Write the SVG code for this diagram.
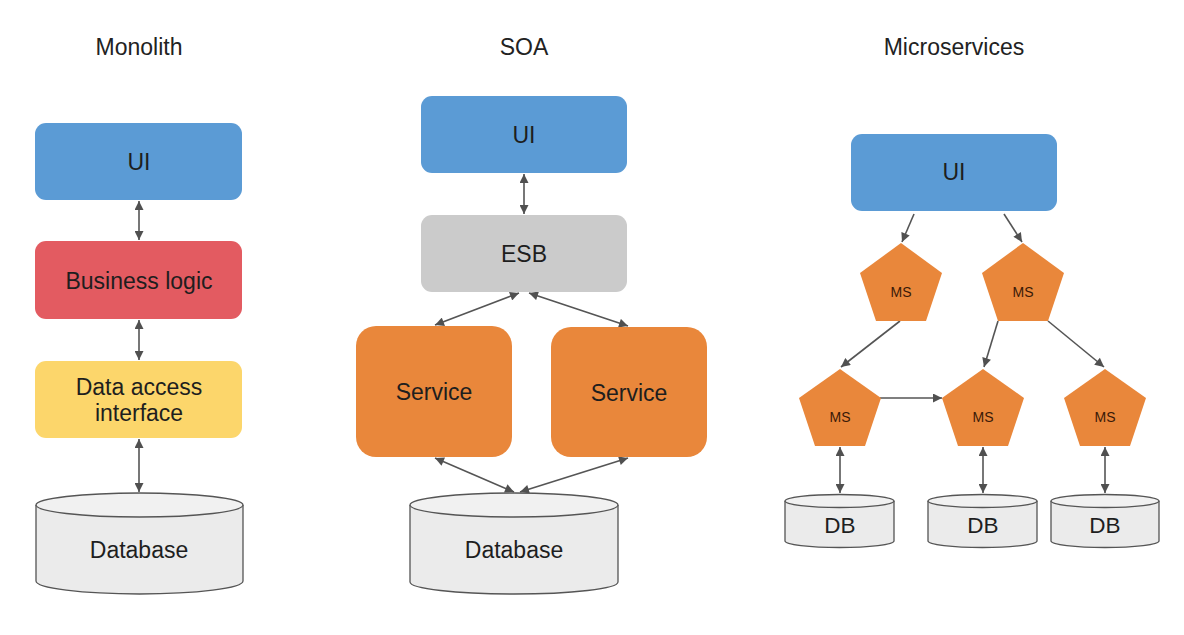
<svg xmlns="http://www.w3.org/2000/svg" width="1184" height="635" viewBox="0 0 1184 635">
<defs>
<marker id="ah" viewBox="0 0 10 10" refX="10" refY="5" markerWidth="10" markerHeight="9" markerUnits="userSpaceOnUse" orient="auto-start-reverse">
<path d="M0,0 L10,5 L0,10 z" fill="#505050"/>
</marker>
<style>
text{font-family:"Liberation Sans",Arial,sans-serif;text-anchor:middle;font-size:23px;fill:#1e1e1e}
.title{font-size:23px;fill:#222}
.ms{font-size:14px;fill:#3a1a08}
.dbt{font-size:22.5px}
.blue{fill:#5b9bd5}
.red{fill:#e35b61}
.yellow{fill:#fcd66b}
.gray{fill:#cbcbcb}
.orange{fill:#e9873b}
.db{fill:#ebebeb;stroke:#555;stroke-width:1.3}
.dbtop{fill:#f1f1f1;stroke:#555;stroke-width:1.3}
.c{stroke:#555;stroke-width:1.6;fill:none}
.bi{marker-start:url(#ah);marker-end:url(#ah)}
.one{marker-end:url(#ah)}
</style>
</defs>
<rect width="1184" height="635" fill="#ffffff"/>

<text class="title" x="139" y="55">Monolith</text>
<text class="title" x="524" y="55">SOA</text>
<text class="title" x="954" y="55">Microservices</text>

<g id="connectors">
<line class="c bi" x1="139" y1="201" x2="139" y2="240"/>
<line class="c bi" x1="139" y1="320" x2="139" y2="360"/>
<line class="c bi" x1="139" y1="439" x2="139" y2="492"/>
<line class="c bi" x1="524" y1="174" x2="524" y2="214"/>
<line class="c bi" x1="519" y1="293" x2="435" y2="325"/>
<line class="c bi" x1="529" y1="293" x2="628" y2="326"/>
<line class="c bi" x1="435" y1="458" x2="514" y2="492"/>
<line class="c bi" x1="628" y1="458" x2="520" y2="492"/>
<line class="c one" x1="914" y1="214" x2="902" y2="242"/>
<line class="c one" x1="1004" y1="214" x2="1022" y2="242"/>
<line class="c one" x1="900" y1="321" x2="841" y2="367"/>
<line class="c one" x1="998" y1="321" x2="984" y2="367"/>
<line class="c one" x1="1048" y1="321" x2="1104" y2="367"/>
<line class="c one" x1="880" y1="398" x2="942" y2="398"/>
<line class="c bi" x1="840" y1="447" x2="840" y2="493"/>
<line class="c bi" x1="983" y1="447" x2="983" y2="493"/>
<line class="c bi" x1="1105" y1="447" x2="1105" y2="493"/>
</g>

<g id="mono-ui"><rect class="blue" x="35" y="123" width="207" height="77" rx="11"/><text x="139" y="170">UI</text></g>
<g id="mono-bl"><rect class="red" x="35" y="241" width="207" height="78" rx="11"/><text x="139" y="289">Business logic</text></g>
<g id="mono-dai"><rect class="yellow" x="35" y="361" width="207" height="77" rx="11"/><text x="139" y="395">Data access</text><text x="139" y="421">interface</text></g>
<g id="mono-db">
<path class="db" d="M36,505 L36,581 A103.5,13 0 0 0 243,581 L243,505"/>
<ellipse class="dbtop" cx="139.5" cy="505" rx="103.5" ry="12"/>
<text x="139" y="558">Database</text>
</g>

<g id="soa-ui"><rect class="blue" x="421" y="96" width="206" height="77" rx="11"/><text x="524" y="143">UI</text></g>
<g id="soa-esb"><rect class="gray" x="421" y="215" width="206" height="77" rx="11"/><text x="524" y="262">ESB</text></g>
<g id="soa-svc1"><rect class="orange" x="356" y="326" width="156" height="131" rx="20"/><text x="434" y="400">Service</text></g>
<g id="soa-svc2"><rect class="orange" x="551" y="327" width="156" height="130" rx="20"/><text x="629" y="401">Service</text></g>
<g id="soa-db">
<path class="db" d="M410,505 L410,582 A104,12 0 0 0 618,582 L618,505"/>
<ellipse class="dbtop" cx="514" cy="505" rx="104" ry="12"/>
<text x="514" y="558">Database</text>
</g>

<g id="ms-ui"><rect class="blue" x="851" y="134" width="206" height="77" rx="11"/><text x="954" y="180">UI</text></g>
<g id="ms1"><polygon class="orange" points="901,243 942,273 926,321 876,321 860,273"/><text class="ms" x="901" y="297">MS</text></g>
<g id="ms2"><polygon class="orange" points="1023,243 1064,273 1048,321 998,321 982,273"/><text class="ms" x="1023" y="297">MS</text></g>
<g id="ms3"><polygon class="orange" points="840,369 881,398 865,446 815,446 799,398"/><text class="ms" x="840" y="422">MS</text></g>
<g id="ms4"><polygon class="orange" points="983,369 1024,398 1008,446 958,446 942,398"/><text class="ms" x="983" y="422">MS</text></g>
<g id="ms5"><polygon class="orange" points="1105,369 1146,398 1130,446 1080,446 1064,398"/><text class="ms" x="1105" y="422">MS</text></g>

<g id="db1">
<path class="db" d="M785,501 L785,541 A54.5,6.5 0 0 0 894,541 L894,501"/>
<ellipse class="dbtop" cx="839.5" cy="501" rx="54.5" ry="6.5"/>
<text class="dbt" x="840" y="533">DB</text>
</g>
<g id="db2">
<path class="db" d="M928,501 L928,541 A54.5,6.5 0 0 0 1037,541 L1037,501"/>
<ellipse class="dbtop" cx="982.5" cy="501" rx="54.5" ry="6.5"/>
<text class="dbt" x="983" y="533">DB</text>
</g>
<g id="db3">
<path class="db" d="M1051,501 L1051,541 A54,6.5 0 0 0 1159,541 L1159,501"/>
<ellipse class="dbtop" cx="1105" cy="501" rx="54" ry="6.5"/>
<text class="dbt" x="1105" y="533">DB</text>
</g>
</svg>
